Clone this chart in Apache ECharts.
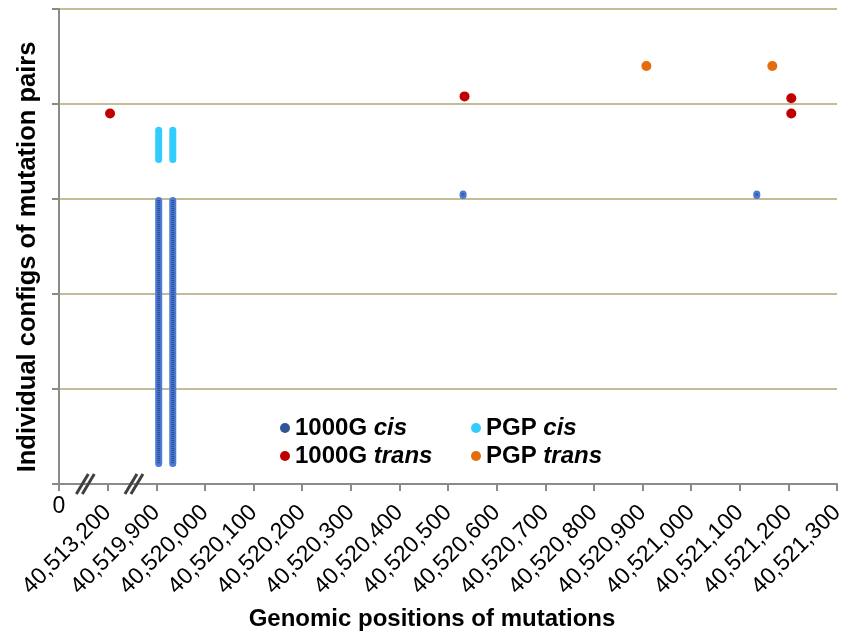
<!DOCTYPE html>
<html>
<head>
<meta charset="utf-8">
<script src="https://cdn.jsdelivr.net/npm/echarts@6/dist/echarts.min.js"></script>
<style>
  html, body { margin: 0; padding: 0; background: #fff; }
  #chart { width: 841px; height: 633px; }
</style>
</head>
<body>
<div id="chart"></div>
<script>
// tick positions on the broken genomic axis (100 bp per tick after the breaks)
const xTicks = [0, 40513200, 40519900, 40520000, 40520100, 40520200, 40520300, 40520400,
  40520500, 40520600, 40520700, 40520800, 40520900, 40521000, 40521100, 40521200, 40521300];
const xTickLabels = ['0', '40,513,200', '40,519,900', '40,520,000', '40,520,100', '40,520,200',
  '40,520,300', '40,520,400', '40,520,500', '40,520,600', '40,520,700', '40,520,800',
  '40,520,900', '40,521,000', '40,521,100', '40,521,200', '40,521,300'];

// [position, first config, last config] for the stacked columns
const cis1000G = [[40519905, 9, 151], [40519934, 9, 151], [40520531, 150, 154.5], [40521135, 150, 154.5]];
const cisPGP = [[40519905, 169, 188], [40519934, 169, 188]];
// [position, config]
const trans1000G = [[40513205, 195], [40520534, 204], [40521206, 203], [40521206, 195]];
const transPGP = [[40520908, 220], [40521167, 220]];

const FONT = "'Liberation Sans', Arial, sans-serif";

// position -> coordinate on the broken axis
function toAxis(p) {
  let i = 0;
  while (i < xTicks.length - 1 && xTicks[i + 1] <= p) i++;
  return i + (p - xTicks[i]) / 100;
}

function columnItem(fill, stripe) {
  return function (params, api) {
    const x = api.value(0);
    const top = api.coord([x, api.value(2)]);
    const bot = api.coord([x, api.value(1)]);
    const w = 7;
    const children = [{
      type: 'rect',
      shape: { x: top[0] - w / 2, y: top[1], width: w, height: bot[1] - top[1], r: w / 2 },
      style: { fill: fill }
    }];
    if (stripe && bot[1] - top[1] > 8) {
      children.push({
        type: 'line',
        shape: { x1: top[0], y1: top[1] + 3, x2: top[0], y2: bot[1] - 3 },
        style: { stroke: stripe, lineWidth: 3, lineDash: [1, 1] }
      });
    }
    return { type: 'group', children: children };
  };
}

const legendRich = {
  b: { fontFamily: FONT, fontSize: 24, fontWeight: 'bold', color: '#000' },
  i: { fontFamily: FONT, fontSize: 24, fontWeight: 'bold', fontStyle: 'italic', color: '#000' }
};
function legendFormatter(name) {
  const parts = name.split(' ');
  return '{b|' + parts[0] + ' }{i|' + parts[1] + '}';
}

const chart = echarts.init(document.getElementById('chart'));

chart.setOption({
  animation: false,
  backgroundColor: '#fff',
  grid: { left: 59, right: 4, top: 9, bottom: 149, outerBoundsMode: 'none' },
  legend: [
    {
      orient: 'vertical', left: 275, top: 411, icon: 'circle',
      itemWidth: 10, itemHeight: 10, itemGap: 4,
      data: ['1000G cis', '1000G trans'],
      formatter: legendFormatter,
      textStyle: { lineHeight: 24, rich: legendRich }
    },
    {
      orient: 'vertical', left: 466, top: 411, icon: 'circle',
      itemWidth: 10, itemHeight: 10, itemGap: 4,
      data: ['PGP cis', 'PGP trans'],
      formatter: legendFormatter,
      textStyle: { lineHeight: 24, rich: legendRich }
    }
  ],
  xAxis: [
    {
      type: 'value', min: 0, max: xTicks.length - 1, interval: 1,
      axisLine: { lineStyle: { color: '#8a8a8a', width: 2 } },
      axisTick: { length: 7, lineStyle: { color: '#8a8a8a', width: 2 } },
      splitLine: { show: false },
      axisLabel: {
        rotate: 45, margin: 25, color: '#000', fontFamily: FONT, fontSize: 23,
        formatter: v => (v === 0 ? '' : xTickLabels[v])
      }
    },
    {
      type: 'value', position: 'bottom', min: 0, max: xTicks.length - 1, interval: 1,
      axisLine: { show: false }, axisTick: { show: false }, splitLine: { show: false },
      axisLabel: {
        margin: 11, color: '#000', fontFamily: FONT, fontSize: 23,
        formatter: v => (v === 0 ? xTickLabels[0] : '')
      }
    }
  ],
  yAxis: {
    type: 'value', min: 0, max: 250, interval: 50,
    axisLine: { show: true, lineStyle: { color: '#8a8a8a', width: 2 } },
    axisTick: { show: true, length: 7, lineStyle: { color: '#8a8a8a', width: 2 } },
    axisLabel: { show: false },
    splitLine: { lineStyle: { color: '#C4BC96', width: 2 } }
  },
  series: [
    {
      name: '1000G cis', type: 'custom', itemStyle: { color: '#2F5597' },
      encode: { x: 0, y: [1, 2] },
      renderItem: columnItem('#4B7BD6', '#2A4B8E'),
      data: cis1000G.map(d => [toAxis(d[0]), d[1], d[2]]),
      z: 3
    },
    {
      name: 'PGP cis', type: 'custom', itemStyle: { color: '#33CCFF' },
      encode: { x: 0, y: [1, 2] },
      renderItem: columnItem('#33CCFF', null),
      data: cisPGP.map(d => [toAxis(d[0]), d[1], d[2]]),
      z: 3
    },
    {
      name: '1000G trans', type: 'scatter', symbol: 'circle', symbolSize: 10,
      itemStyle: { color: '#C00000', opacity: 1 },
      data: trans1000G.map(d => [toAxis(d[0]), d[1]]),
      z: 4
    },
    {
      name: 'PGP trans', type: 'scatter', symbol: 'circle', symbolSize: 10,
      itemStyle: { color: '#E46C0A', opacity: 1 },
      data: transPGP.map(d => [toAxis(d[0]), d[1]]),
      z: 4
    }
  ]
});

// titles plus axis-break marks, the marks placed through the axis scale
const graphics = [
  {
    id: 'xTitle', type: 'text', x: 432, y: 619, z: 10,
    style: {
      text: 'Genomic positions of mutations', fill: '#000',
      fontFamily: FONT, fontSize: 24, fontWeight: 'bold',
      textAlign: 'center', textVerticalAlign: 'middle'
    }
  },
  {
    id: 'yTitle', type: 'text', x: 28, y: 257, rotation: Math.PI / 2, z: 10,
    style: {
      text: 'Individual configs of mutation pairs', fill: '#000',
      fontFamily: FONT, fontSize: 25.5, fontWeight: 'bold',
      textAlign: 'center', textVerticalAlign: 'middle'
    }
  }
];
[0.5, 1.5].forEach((v, k) => {
  const p = chart.convertToPixel({ xAxisIndex: 0, yAxisIndex: 0 }, [v, 0]);
  const cx = p[0] + 2, cy = p[1];
  [-3, 3].forEach((dx, j) => {
    graphics.push({
      id: 'break' + k + '_' + j, type: 'line', z: 20,
      shape: { x1: cx + dx - 6, y1: cy + 10, x2: cx + dx + 6, y2: cy - 10 },
      style: { stroke: '#404040', lineWidth: 3 }
    });
  });
});
chart.setOption({ graphic: graphics });
</script>
</body>
</html>
